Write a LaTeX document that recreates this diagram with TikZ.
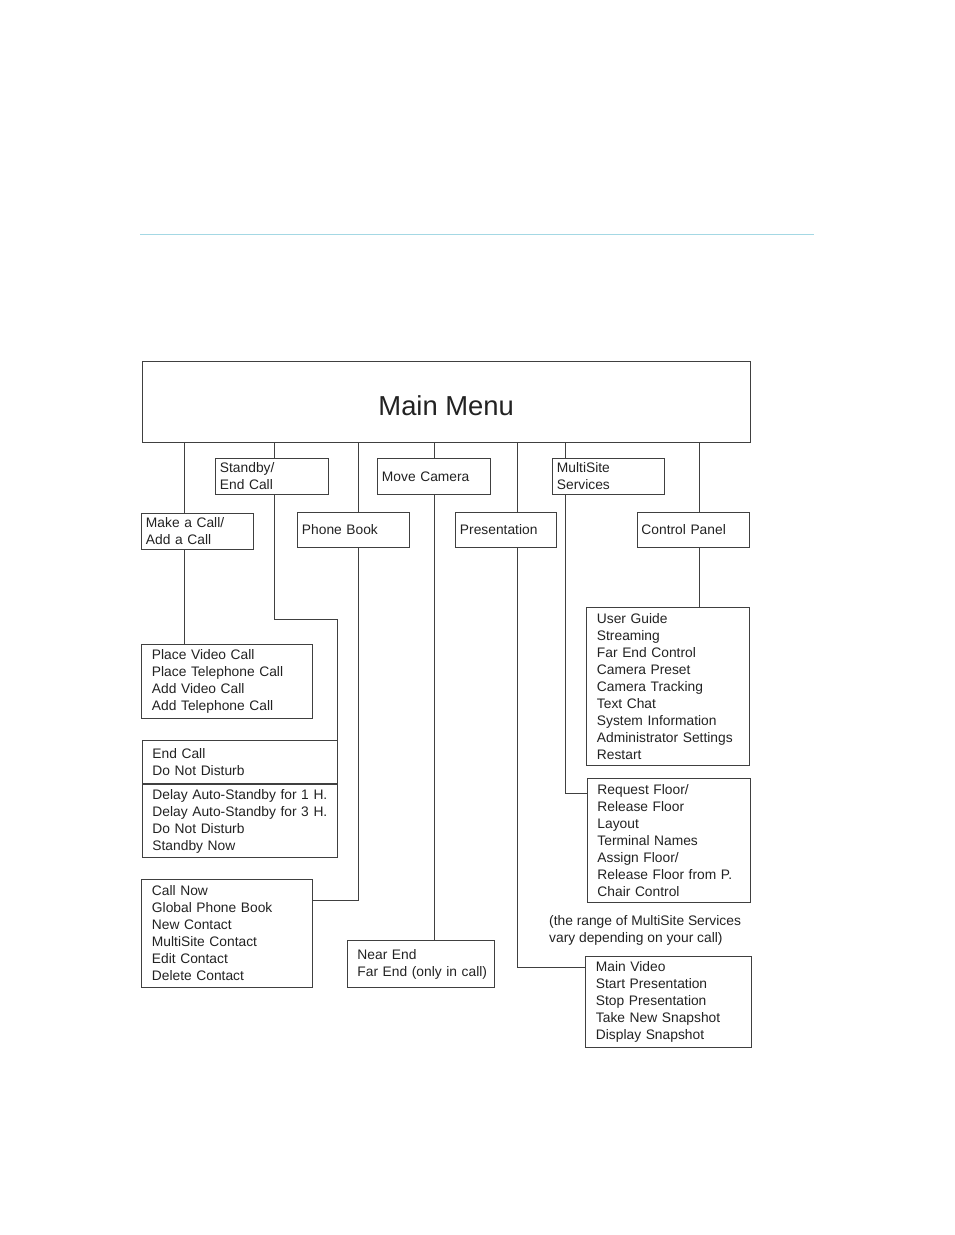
\documentclass[tikz,border=0pt]{standalone}
\usepackage{fontspec}
\setmainfont{Liberation Sans}
\usepackage{xcolor}
\definecolor{rulecyan}{RGB}{164,216,228}
\definecolor{menuink}{RGB}{34,34,34}
\newcommand{\menufont}{\fontsize{13.8}{17}\selectfont}

\begin{document}
\begin{tikzpicture}[x=1pt, y=-1pt,
    box/.style={draw=black!75, line width=0.9pt, anchor=north west, align=left,
        inner ysep=0pt, text=menuink, font=\menufont},
    tabbox/.style={box, inner xsep=4.5pt},
    listbox/.style={box, inner xsep=10.5pt},
    link/.style={draw=black!75, line width=0.9pt}]
    \useasboundingbox (0,0) rectangle (954,1235);

    % page rule
    \draw[rulecyan, line width=1pt] (140,234) -- (814,234);

    % main menu
    \node[box, align=center, minimum width=608.5pt, minimum height=81.5pt, text height=27.5pt, text depth=0pt,
        font=\fontsize{27.4}{32}\selectfont] (mainmenu) at (141.5,360.5) {Main Menu};

    % first level
    \node[tabbox, text width=103.5pt, minimum height=36.5pt] (standby) at (215,457.5) {Standby/\\End Call};
    \node[tabbox, text width=104pt, minimum height=36pt] (movecam) at (377,458) {Move Camera};
    \node[tabbox, text width=103pt, minimum height=36.5pt] (multisite) at (552,457.5) {MultiSite\\Services};
    \node[tabbox, text width=103pt, minimum height=36pt] (makecall) at (141,513) {Make a Call/\\Add a Call};
    \node[tabbox, text width=103pt, minimum height=35.5pt] (phonebook) at (297,511.5) {Phone Book};
    \node[tabbox, text width=92pt, minimum height=35.5pt] (presentation) at (455,511.5) {Presentation};
    \node[tabbox, text width=103.5pt, minimum height=35.5pt] (control) at (636.5,511.5) {Control Panel};

    % second level
    \node[listbox, text width=149.5pt, minimum height=74pt] (placecall) at (141,643.5)
        {Place Video Call\\Place Telephone Call\\Add Video Call\\Add Telephone Call};
    \node[listbox, text width=174pt, minimum height=43pt] (endcall) at (141.5,740)
        {End Call\\Do Not Disturb};
    \node[listbox, text width=174pt, minimum height=73.5pt] (standbynow) at (endcall.south west)
        {\mbox{Delay Auto-Standby for 1 H.}\\\mbox{Delay Auto-Standby for 3 H.}\\Do Not Disturb\\Standby Now};
    \node[listbox, text width=149.5pt, minimum height=108pt] (callnow) at (141,879)
        {Call Now\\Global Phone Book\\New Contact\\MultiSite Contact\\Edit Contact\\Delete Contact};
    \node[listbox, inner xsep=10pt, text width=127pt, minimum height=47pt] (nearend) at (347,940)
        {Near End\\\mbox{Far End (only in call)}};
    \node[listbox, text width=142pt, minimum height=158.5pt] (userguide) at (586,606.5)
        {User Guide\\Streaming\\Far End Control\\Camera Preset\\Camera Tracking\\Text Chat\\System Information\\Administrator Settings\\Restart};
    \node[listbox, text width=142.5pt, minimum height=124.5pt] (floor) at (586.5,777.5)
        {Request Floor/\\Release Floor\\Layout\\Terminal Names\\Assign Floor/\\Release Floor from P.\\Chair Control};
    \node[listbox, text width=144.5pt, minimum height=91pt] (mainvideo) at (585,956)
        {Main Video\\Start Presentation\\Stop Presentation\\Take New Snapshot\\Display Snapshot};
    \node[anchor=north west, inner sep=0pt, align=left, text=menuink, font=\menufont] (rangenote) at (549,915)
        {(the range of MultiSite Services\\vary depending on your call)};

    % connections
    \foreach \x/\n in {184/makecall, 274/standby, 358/phonebook, 434.5/movecam, 517/presentation, 565/multisite, 699/control} {
        \draw[link] (mainmenu.south -| \x,0) -- (\n.north -| \x,0);
    }
    \draw[link] (makecall.south -| 184,0) -- (placecall.north -| 184,0);
    \draw[link] (standby.south -| 274,0) |- (endcall.north east |- 0,619) -- (endcall.north east);
    \draw[link] (phonebook.south -| 358,0) |- (callnow.east |- 0,900.5);
    \draw[link] (movecam.south -| 434.5,0) -- (nearend.north -| 434.5,0);
    \draw[link] (presentation.south -| 517,0) |- (mainvideo.west |- 0,967);
    \draw[link] (multisite.south -| 565,0) |- (floor.west |- 0,793);
    \draw[link] (control.south -| 699,0) -- (userguide.north -| 699,0);
\end{tikzpicture}
\end{document}
